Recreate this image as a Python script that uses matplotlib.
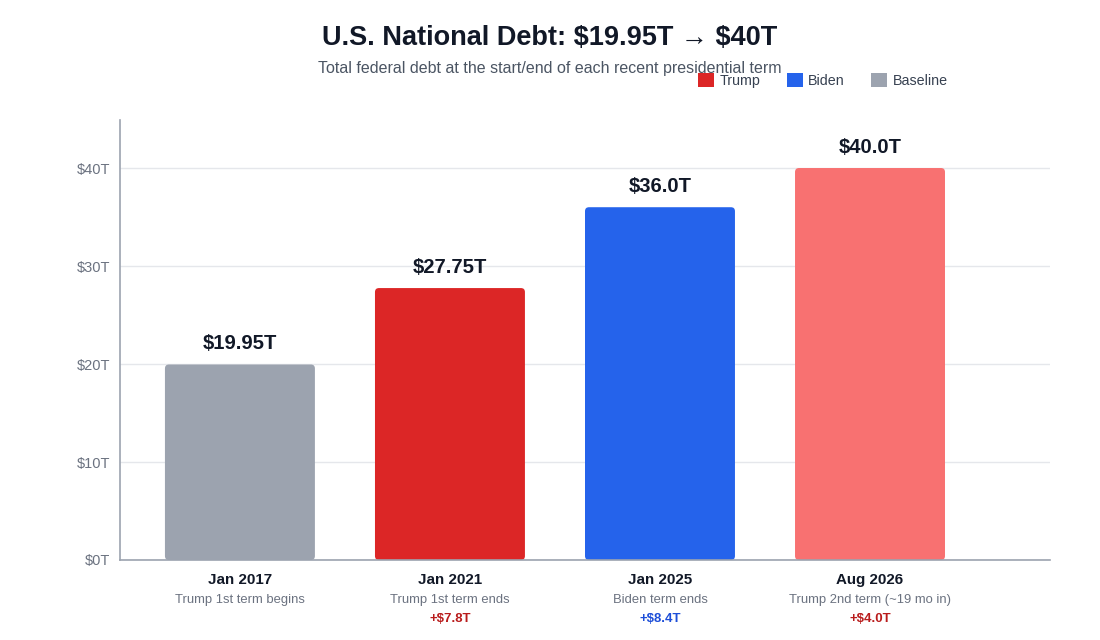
import matplotlib
matplotlib.use("Agg")
import matplotlib.pyplot as plt
from matplotlib.patches import Patch, FancyBboxPatch

plt.rcParams['font.family'] = ['Liberation Sans', 'DejaVu Sans']

# data
dates = ['Jan 2017', 'Jan 2021', 'Jan 2025', 'Aug 2026']
notes = ['Trump 1st term begins', 'Trump 1st term ends', 'Biden term ends',
         'Trump 2nd term (~19 mo in)']
debt = [19.95, 27.75, 36.0, 40.0]
value_labels = ['$19.95T', '$27.75T', '$36.0T', '$40.0T']
deltas = ['', '+$7.8T', '+$8.4T', '+$4.0T']
owner = ['Baseline', 'Trump', 'Biden', 'Trump']
yticks = [0, 10, 20, 30, 40]

bar_colors = ['#9CA3AF', '#DC2626', '#2563EB', '#F87171']
delta_colors = {'Trump': '#B91C1C', 'Biden': '#1D4ED8', 'Baseline': '#6B7280'}

fig = plt.figure(figsize=(11, 6.4), dpi=100)
ax = fig.add_axes([120 / 1100, 80 / 640, 930 / 1100, 440 / 640])

x = list(range(len(debt)))
bars = ax.bar(x, debt, width=0.714, color=bar_colors, zorder=3)
ax.set_xlim(-0.571, 3.857)
ax.set_ylim(0, 44.9)

# swap the plain bars for slightly rounded ones
for b in bars:
    b.set_visible(False)
    rb = FancyBboxPatch((b.get_x(), b.get_y()), b.get_width(), b.get_height(),
                        boxstyle='round,pad=0,rounding_size=0.019',
                        mutation_aspect=21.5, facecolor=b.get_facecolor(),
                        edgecolor='none', zorder=3)
    ax.add_patch(rb)

ax.set_yticks(yticks)
ax.set_yticklabels([f'${v}T' for v in yticks], color='#6B7280', fontsize=10.5)
ax.tick_params(axis='y', length=0, pad=7)
ax.set_xticks([])
ax.grid(axis='y', color='#E5E7EB', linewidth=1, zorder=0)

for s in ['top', 'right']:
    ax.spines[s].set_visible(False)
for s in ['left', 'bottom']:
    ax.spines[s].set_color('#9CA3AF')
    ax.spines[s].set_linewidth(1.2)
ax.spines['bottom'].set_zorder(4)

for i, v in enumerate(debt):
    ax.annotate(value_labels[i], (i, v), xytext=(0, 14.8), textcoords='offset points',
                ha='center', va='center', fontsize=14.6, fontweight='bold', color='#111827')
    ax.annotate(dates[i], (i, 0), xytext=(0, -14.2), textcoords='offset points',
                ha='center', va='center', fontsize=10.9, fontweight='bold',
                color='#111827', annotation_clip=False)
    ax.annotate(notes[i], (i, 0), xytext=(0, -28.6), textcoords='offset points',
                ha='center', va='center', fontsize=9.4, color='#6B7280',
                annotation_clip=False)
    if deltas[i]:
        ax.annotate(deltas[i], (i, 0), xytext=(0, -42.3), textcoords='offset points',
                    ha='center', va='center', fontsize=9.5, fontweight='bold',
                    color=delta_colors[owner[i]], annotation_clip=False)

fig.text(0.5, 1 - 38.5 / 640, 'U.S. National Debt: \\$19.95T \u2192 \\$40T', ha='center',
         va='center', fontsize=19.5, fontweight='bold', color='#111827')
fig.text(0.5, 1 - 68.5 / 640, 'Total federal debt at the start/end of each recent presidential term',
         ha='center', va='center', fontsize=11.5, color='#4B5563')

handles = [Patch(facecolor='#DC2626', label='Trump'),
           Patch(facecolor='#2563EB', label='Biden'),
           Patch(facecolor='#9CA3AF', label='Baseline')]
leg = fig.legend(handles=handles, ncol=3, loc='center', bbox_to_anchor=(823 / 1100, 1 - 80.5 / 640),
                 frameon=False, fontsize=10.3, handlelength=1.1, handleheight=1.15,
                 handletextpad=0.4, columnspacing=1.85, labelcolor='#374151')

fig.savefig('out.png', dpi=100)
